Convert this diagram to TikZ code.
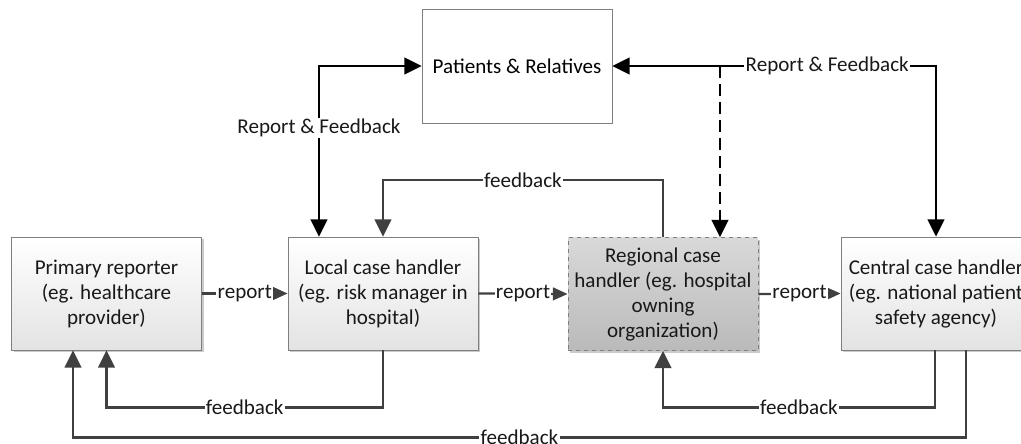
\documentclass[tikz,border=0pt]{standalone}
\usepackage{fontspec}
\setmainfont{Carlito}
\usetikzlibrary{arrows.meta,calc,shadows}
\definecolor{conn}{HTML}{404040}
\definecolor{bord}{HTML}{7F7F7F}
\begin{document}
\begin{tikzpicture}[x=0.75pt,y=-0.75pt,
  font=\fontsize{15.8}{18.75}\selectfont,
  box/.style={draw=bord, line width=0.6pt, minimum width=142.5pt, minimum height=84.75pt,
    inner sep=2pt, align=center, text=black!90,
    top color=white, bottom color=black!11,
    drop shadow={shadow xshift=1.5pt, shadow yshift=-1.5pt, fill=black!35, opacity=0.6}},
  regbox/.style={box, dashed, top color=black!15, bottom color=black!27},
  pbox/.style={draw=bord, line width=0.6pt, fill=white, minimum width=142.5pt, minimum height=85.5pt, align=center},
  bigtip/.style={Triangle[length=13pt,width=12.5pt]},
  fb/.style={draw=conn, line width=1.7pt, -{Triangle[length=13pt,width=12.5pt]}},
  rp/.style={draw=conn, line width=1.7pt, -{Triangle[length=11pt,width=9.5pt]}},
  bk/.style={draw=black, line width=1.7pt, {Triangle[length=13pt,width=12.5pt]}-{Triangle[length=13pt,width=12.5pt]}},
  lbl/.style={fill=white, inner sep=1pt, text=black!90}]
\useasboundingbox (0,0) rectangle (1021,443);
\node[box] (primary) at (106.5,293.5) {Primary reporter\\(eg. healthcare\\provider)};
\node[box] (local) at (383,293.5) {Local case handler\\(eg. risk manager in\\hospital)};
\node[regbox] (regional) at (663,294) {Regional case\\handler (eg. hospital\\owning\\organization)};
\node[box] (central) at (936,293.5) {Central case handler\\(eg. national patient\\safety agency)};
\node[pbox] (patients) at (517,66) {Patients \& Relatives};

% report arrows
\draw[rp] (primary.east) -- node[lbl]{report} (local.west);
\draw[rp] (local.east) -- node[lbl]{report} (regional.west);
\draw[rp] (regional.east) -- node[lbl]{report} (central.west);

% feedback arrows
\draw[fb] (local.south) -- ++(0,57) -| node[lbl,pos=0.25]{feedback} (primary.south);
\coordinate (cs1) at ($(central.south)+(30,0)$);
\coordinate (ps1) at ($(primary.south)+(-33.5,0)$);
\draw[fb] (cs1) -- ++(0,87) -| node[lbl,pos=0.25]{feedback} (ps1);
\coordinate (cs2) at ($(central.south)+(-1,0)$);
\draw[fb] (cs2) -- ++(0,57) -| node[lbl,pos=0.25]{feedback} (regional.south);
\draw[fb] (regional.north) -- ++(0,-57) -| node[lbl,pos=0.25]{feedback} (local.north);

% report & feedback with patients
\coordinate (ln) at ($(local.north)+(-64,0)$);
\draw[bk] (ln) |- node[lbl,pos=0.318]{Report \& Feedback} (patients.west);
\draw[bk] (patients.east) -| node[lbl,pos=0.332]{Report \& Feedback} (central.north);
\coordinate (rn) at ($(regional.north)+(57,0)$);
\coordinate (dtop) at (rn |- patients.east);
\draw[draw=black, line width=1.7pt, dash pattern=on 9pt off 4.5pt, -{Triangle[length=13pt,width=12.5pt]}] (dtop) -- (rn);
\end{tikzpicture}
\end{document}
